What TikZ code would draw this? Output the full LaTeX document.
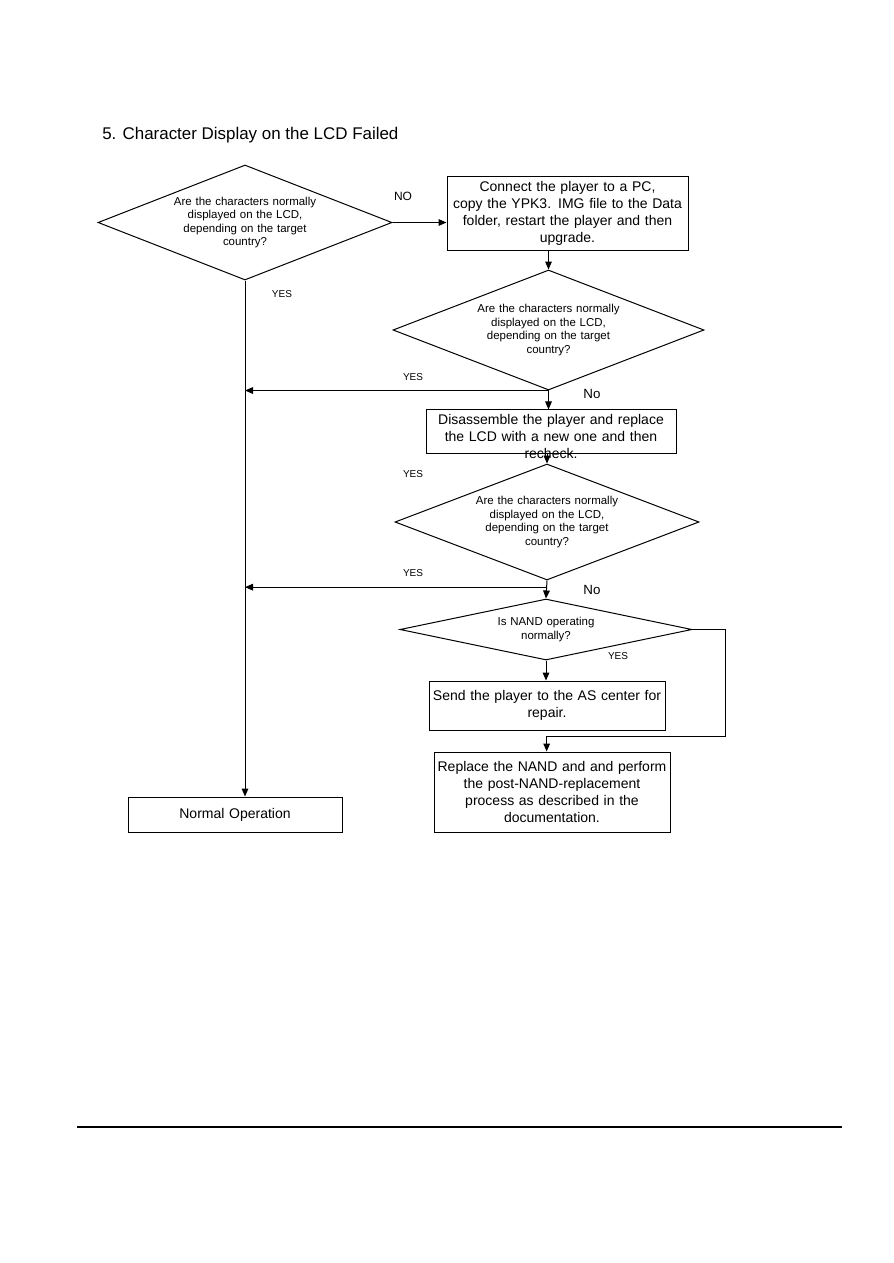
\documentclass[tikz,border=0pt]{standalone}
\usepackage{fontspec}
\setmainfont{Liberation Sans}
\usetikzlibrary{arrows.meta,shapes.geometric}

\begin{document}
\begin{tikzpicture}[
  x=0.75pt,y=-0.75pt,
  font=\fontsize{10.5}{12.75}\selectfont,
  decision/.style={diamond,draw,line width=0.75pt,inner sep=0pt,
    text width=110pt,align=center,
    font=\fontsize{8.6}{10.1}\selectfont},
  action/.style={rectangle,draw,line width=0.75pt,inner xsep=1pt,
    inner ysep=3pt,align=center},
  answer/.style={inner sep=0pt,font=\fontsize{7.5}{9}\selectfont},
  branch/.style={inner sep=0pt,font=\fontsize{10}{12}\selectfont},
  flow/.style={-{Triangle[length=6pt,width=5pt]},line width=0.75pt}
]
\useasboundingbox (0,0) rectangle (893,1263);
\node[anchor=west,inner sep=0pt,font=\fontsize{12.7}{15}\selectfont] (title)
  at (102,135) {5. Character Display on the LCD Failed};
\node[decision,aspect=2.56,minimum width=220.5pt,minimum height=86.25pt]
  (ask1) at (245,222.5)
  {Are the characters normally\\displayed on the LCD,\\depending on the target\\country?};
\node[action,text width=178.75pt,minimum width=180.75pt,minimum height=55.5pt]
  (fix) at (567.5,213)
  {Connect the player to a PC,\\copy the YPK3. IMG file to the Data\\folder, restart the player and then\\upgrade.};
\node[decision,aspect=2.59,minimum width=233.25pt,minimum height=90pt]
  (ask2) at (548.5,330)
  {Are the characters normally\\displayed on the LCD,\\depending on the target\\country?};
\node[action,text width=185.5pt,minimum width=187.5pt]
  (swap) at (551,431.5)
  {Disassemble the player and replace\\the LCD with a new one and then\\[-6.75pt]\smash{\raisebox{-6.75pt}{recheck.}}};
\node[decision,aspect=2.62,minimum width=228pt,minimum height=87pt]
  (ask3) at (547,522)
  {Are the characters normally\\displayed on the LCD,\\depending on the target\\country?};
\node[decision,aspect=4.79,minimum width=219pt,minimum height=45.75pt,
  text width=80pt] (ask4) at (546,629.5)
  {Is NAND operating\\normally?};
\node[action,text width=175pt,minimum width=177pt,minimum height=36.75pt]
  (send) at (547,705.5)
  {Send the player to the AS center for\\repair.};
\node[action,text width=175pt,minimum width=177pt,minimum height=60pt]
  (nand) at (552,792)
  {Replace the NAND and and perform\\the post-NAND-replacement\\process as described in the\\documentation.};
\node[action,text width=158.5pt,minimum width=160.5pt,minimum height=26.25pt]
  (normal) at (235,814.5) {Normal Operation};
\node[inner sep=0pt,font=\fontsize{9}{11}\selectfont] (no1) at (403,196) {NO};
\node[answer] (yes1) at (282,294) {YES};
\node[answer] (yes2) at (413,377) {YES};
\node[branch] (no2) at (592,394) {No};
\node[answer] (yes3) at (413,474) {YES};
\node[answer] (yes4) at (413,573) {YES};
\node[branch] (no3) at (592,590) {No};
\node[answer] (yes5) at (618,656) {YES};
\coordinate (join3) at ([yshift=-5pt]ask3.south);
\draw[flow] (ask1.east) -- (ask1.east -| fix.west);
\draw[flow] (fix.south -| ask2.north) -- (ask2.north);
\draw[flow] (ask2.south) -- (ask2.south -| ask1.south);
\draw[flow] (ask2.south) -- (ask2.south |- swap.north);
\draw[flow] (swap.south -| ask3.north) -- (ask3.north);
\draw[flow] (join3) -- (join3 -| ask1.south);
\draw[flow] (ask3.south) -- (ask4.north);
\draw[flow] (ask4.south) -- (ask4.south |- send.north);
\draw[flow] (ask4.east) -- ++(33,0) -- ++(0,107) -| ([xshift=-4pt]nand.north);
\draw[flow] (ask1.south) -- (ask1.south |- normal.north);
\draw[line width=1.5pt] (77,1127) -- (842,1127);
\end{tikzpicture}
\end{document}
